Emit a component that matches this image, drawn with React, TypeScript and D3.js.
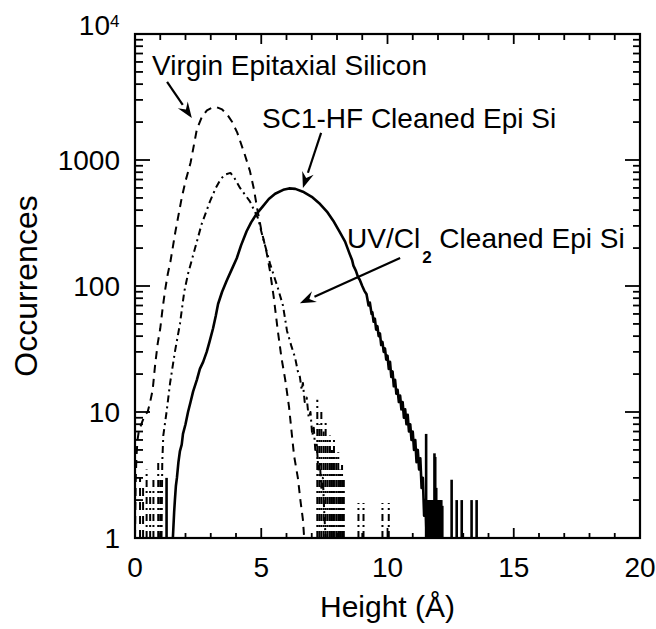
import React from "react";
import * as d3 from "d3";

// Height histograms (height in Å, number of occurrences)
const virginEpi: [number, number][] = [
  [0.0, 1], [0.03, 3], [0.06, 4.5], [0.1, 6], [0.15, 7], [0.2, 7.5], [0.3, 8.5], [0.4, 9.5],
  [0.5, 10], [0.6, 12], [0.7, 15], [0.8, 24], [0.9, 35], [1.0, 46], [1.1, 68], [1.2, 95],
  [1.3, 125], [1.4, 155], [1.6, 270], [1.85, 500], [2.0, 680], [2.2, 950], [2.45, 1750],
  [2.65, 2200], [2.85, 2480], [3.05, 2600], [3.25, 2620], [3.45, 2520], [3.65, 2300],
  [3.85, 2000], [4.05, 1650], [4.35, 1100], [4.55, 820], [4.7, 600], [4.85, 400], [5.0, 280],
  [5.2, 190], [5.35, 130], [5.5, 80], [5.65, 45], [5.8, 27], [5.95, 18], [6.1, 11], [6.2, 7],
  [6.3, 4.5], [6.45, 3], [6.55, 2], [6.65, 1.4], [6.7, 1],
];

const uvCl2Cleaned: [number, number][] = [
  [1.05, 1], [1.08, 4], [1.12, 6.5], [1.25, 10], [1.39, 17], [1.58, 30], [1.78, 50],
  [1.95, 90], [2.1, 125], [2.38, 200], [2.64, 310], [2.97, 470], [3.2, 600], [3.4, 710],
  [3.6, 770], [3.78, 790], [3.92, 730], [4.16, 600], [4.55, 470], [4.87, 345], [5.07, 240],
  [5.35, 150], [5.66, 96], [5.86, 70], [6.02, 44], [6.2, 33], [6.34, 27], [6.45, 21],
  [6.53, 19], [6.6, 15], [6.65, 17], [6.72, 12], [6.8, 13], [6.88, 9], [6.95, 10], [7.02, 6.5],
  [7.08, 7.5], [7.14, 5], [7.2, 5.5], [7.26, 3.5], [7.32, 4], [7.38, 2.5], [7.44, 3],
  [7.5, 1.5], [7.55, 1],
];

const sc1HfCleaned: [number, number][] = [
  [1.5, 1], [1.55, 1.6], [1.58, 2], [1.62, 2.6], [1.66, 3], [1.72, 4], [1.78, 4.9],
  [1.85, 5.5], [1.9, 6.7], [2.0, 8], [2.1, 10], [2.2, 12], [2.3, 14.5], [2.45, 18],
  [2.57, 22], [2.7, 25], [2.84, 30], [2.95, 36], [3.09, 46], [3.2, 58], [3.29, 72],
  [3.45, 90], [3.63, 110], [3.85, 138], [4.03, 166], [4.2, 210], [4.42, 272], [4.6, 320],
  [4.8, 370], [5.07, 430], [5.3, 490], [5.55, 540], [5.87, 580], [6.1, 595], [6.35, 590],
  [6.65, 560], [7.0, 510], [7.33, 447], [7.6, 390], [7.85, 330], [8.1, 270], [8.32, 225],
  [8.5, 180], [8.6, 160], [8.65, 145], [8.75, 132], [8.83, 118], [8.9, 112], [9.0, 100],
  [9.08, 92], [9.17, 86], [9.25, 70], [9.3, 74], [9.37, 60], [9.4, 62], [9.45, 52],
  [9.5, 55], [9.55, 45], [9.6, 48], [9.65, 40], [9.7, 42], [9.75, 34], [9.8, 36], [9.85, 30],
  [9.9, 32], [9.95, 26], [10.0, 28], [10.05, 22], [10.1, 25], [10.15, 19], [10.2, 21],
  [10.25, 16], [10.3, 18], [10.35, 14], [10.4, 15], [10.45, 12], [10.5, 13.5], [10.55, 10.5],
  [10.6, 12], [10.65, 9], [10.7, 10.5], [10.75, 8], [10.8, 9.5], [10.85, 7], [10.9, 8],
  [10.95, 6], [11.0, 7], [11.05, 5], [11.1, 6], [11.15, 4], [11.2, 5], [11.25, 3.5],
  [11.3, 4.3], [11.35, 2.5], [11.4, 3], [11.45, 1.5], [11.5, 2], [11.55, 1],
];

// Isolated bins in the sparse tails (height, occurrences)
const virginSpikes: [number, number][] = [[0.2, 3], [0.32, 2.5]];
const uvSpikes: [number, number][] = [
  [0.46, 3.5], [0.6, 2.5], [0.73, 3], [0.92, 4], [1.0, 3],
  [7.22, 12.5], [7.3, 8], [7.38, 10], [7.47, 7], [7.55, 8.5], [7.63, 6], [7.72, 6.5],
  [7.8, 5], [7.88, 6], [7.97, 4.5], [8.05, 4.8], [8.12, 3.5], [8.2, 3.8], [8.27, 3],
  [8.85, 1.9], [9.05, 1.9], [9.8, 1.9], [10.05, 1.9],
];
const sc1Spikes: [number, number][] = [
  [1.25, 3], [11.53, 6.7], [11.57, 2], [11.61, 2], [11.65, 2], [11.69, 2], [11.73, 2],
  [11.77, 2], [11.81, 2], [11.86, 4.7], [11.89, 4.4], [11.93, 2.5], [11.97, 2], [12.01, 2],
  [12.05, 2], [12.09, 2], [12.13, 2], [12.17, 1.8], [12.54, 2.9], [12.74, 2], [12.94, 2],
  [13.33, 2], [13.53, 2],
];

// Axis ticks
const xMajorTicks = [0, 5, 10, 15, 20];
const xTickLabels = ["0", "5", "10", "15", "20"];
const yMajorTicks = [1, 10, 100, 1000];
const yTickLabels = ["1", "10", "100", "1000"];

// Annotation arrows: [fromHeight, fromCount, toHeight, toCount]
const virginArrow = [1.27, 4160, 2.25, 2150];
const sc1Arrow = [7.37, 1640, 6.65, 600];
const uvArrow = [10.5, 167, 6.53, 73];

const W = 656;
const H = 629;
const plot = { left: 135, right: 640, top: 34, bottom: 538 };
const FONT = "'Liberation Sans', Arial, Helvetica, sans-serif";

const x = d3.scaleLinear().domain([0, 20]).range([plot.left, plot.right]);
const y = d3.scaleLog().domain([1, 10000]).range([plot.bottom, plot.top]);

const line = d3
  .line<[number, number]>()
  .x((d) => x(d[0]))
  .y((d) => y(Math.max(1, d[1])));

const xMinorTicks = d3.range(0, 21).filter((v) => v % 5 !== 0);
const yMinorTicks = yMajorTicks.flatMap((d) => d3.range(2, 10).map((k) => d * k));

type Style = { dash?: string; width: number };
const virginStyle: Style = { dash: "8 6", width: 2 };
const uvStyle: Style = { dash: "7 4 2 4", width: 2 };
const sc1Style: Style = { width: 2.6 };

function Series({ data, spikes, style }: { data: [number, number][]; spikes: [number, number][]; style: Style }) {
  return (
    <g fill="none" stroke="#000" strokeWidth={style.width} strokeDasharray={style.dash} strokeLinejoin="round">
      <path d={line(data) ?? ""} />
      {spikes.map(([h, c], i) => (
        <line key={i} x1={x(h)} x2={x(h)} y1={y(1)} y2={y(c)} />
      ))}
    </g>
  );
}

function Arrow({ a }: { a: number[] }) {
  const x1 = x(a[0]);
  const y1 = y(a[1]);
  const x2 = x(a[2]);
  const y2 = y(a[3]);
  const ang = Math.atan2(y2 - y1, x2 - x1);
  const len = 16;
  const half = 6;
  const bx = x2 - len * Math.cos(ang);
  const by = y2 - len * Math.sin(ang);
  const px = -Math.sin(ang) * half;
  const py = Math.cos(ang) * half;
  return (
    <g>
      <line x1={x1} y1={y1} x2={bx} y2={by} stroke="#000" strokeWidth={2.2} />
      <polygon
        points={`${x2},${y2} ${bx + px},${by + py} ${bx + 0.35 * (x2 - bx)},${by + 0.35 * (y2 - by)} ${bx - px},${by - py}`}
        fill="#000"
      />
    </g>
  );
}

export default function App() {
  return (
    <svg
      width={W}
      height={H}
      viewBox={`0 0 ${W} ${H}`}
      style={{ position: "absolute", left: 0, top: 0, background: "#fff" }}
      fontFamily={FONT}
    >
      <rect x={0} y={0} width={W} height={H} fill="#fff" />

      {/* curves */}
      <Series data={virginEpi} spikes={virginSpikes} style={virginStyle} />
      <Series data={uvCl2Cleaned} spikes={uvSpikes} style={uvStyle} />
      <Series data={sc1HfCleaned} spikes={sc1Spikes} style={sc1Style} />

      {/* frame */}
      <rect
        x={plot.left}
        y={plot.top}
        width={plot.right - plot.left}
        height={plot.bottom - plot.top}
        fill="none"
        stroke="#000"
        strokeWidth={2.2}
      />

      {/* x ticks (bottom and top, inward) */}
      <g stroke="#000" strokeWidth={1.8}>
        {xMajorTicks.map((v) => (
          <g key={`xM${v}`}>
            <line x1={x(v)} x2={x(v)} y1={plot.bottom} y2={plot.bottom - 10} />
            <line x1={x(v)} x2={x(v)} y1={plot.top} y2={plot.top + 10} />
          </g>
        ))}
        {xMinorTicks.map((v) => (
          <g key={`xm${v}`}>
            <line x1={x(v)} x2={x(v)} y1={plot.bottom} y2={plot.bottom - 5} />
            <line x1={x(v)} x2={x(v)} y1={plot.top} y2={plot.top + 6} />
          </g>
        ))}
        {yMajorTicks.map((v) => (
          <g key={`yM${v}`}>
            <line x1={plot.left} x2={plot.left + 15} y1={y(v)} y2={y(v)} />
            <line x1={plot.right} x2={plot.right - 15} y1={y(v)} y2={y(v)} />
          </g>
        ))}
        {yMinorTicks.map((v) => (
          <g key={`ym${v}`}>
            <line x1={plot.left} x2={plot.left + 8} y1={y(v)} y2={y(v)} />
            <line x1={plot.right} x2={plot.right - 7} y1={y(v)} y2={y(v)} />
          </g>
        ))}
      </g>

      {/* tick labels */}
      <g fontSize={28} fill="#000">
        {xMajorTicks.map((v, i) => (
          <text key={`xl${v}`} x={x(v)} y={plot.bottom + 39} textAnchor="middle">
            {xTickLabels[i]}
          </text>
        ))}
        {yMajorTicks.map((v, i) => (
          <text key={`yl${v}`} x={plot.left - 15} y={y(v) + 10} textAnchor="end">
            {yTickLabels[i]}
          </text>
        ))}
        <text x={plot.left - 25} y={y(10000) + 1} textAnchor="end">
          10
        </text>
        <text x={plot.left - 25} y={y(10000) - 7} fontSize={17}>
          4
        </text>
      </g>

      {/* axis titles */}
      <text x={(plot.left + plot.right) / 2} y={617} fontSize={30} textAnchor="middle">
        Height (Å)
      </text>
      <text
        transform={`translate(37, ${(plot.top + plot.bottom) / 2}) rotate(-90)`}
        fontSize={32}
        textAnchor="middle"
      >
        Occurrences
      </text>

      {/* annotations */}
      <g fontSize={28} fill="#000">
        <text x={152} y={75}>Virgin Epitaxial Silicon</text>
        <text x={262} y={128}>SC1-HF Cleaned Epi Si</text>
        <text x={347} y={248}>
          UV/Cl
          <tspan fontSize={17} fontWeight="bold" dx={2} dy={15}>2</tspan>
          <tspan dy={-15}> Cleaned Epi Si</tspan>
        </text>
      </g>
      <Arrow a={virginArrow} />
      <Arrow a={sc1Arrow} />
      <Arrow a={uvArrow} />
    </svg>
  );
}
